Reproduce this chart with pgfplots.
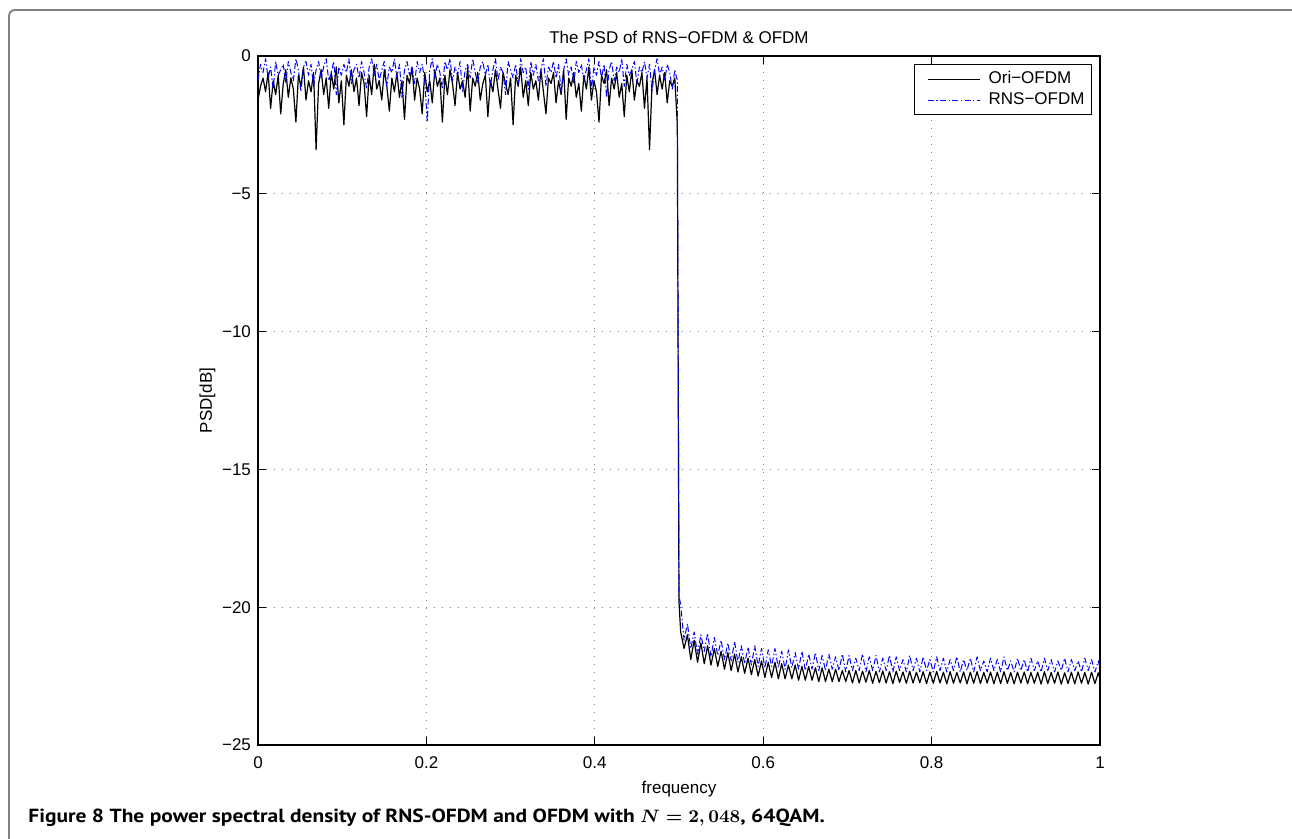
\documentclass[border=0pt]{standalone}
\usepackage{fontspec}
\setmainfont{Liberation Sans}
\newfontfamily\capfont[FakeStretch=1.13]{PT Sans}
\usepackage{pgfplots}
\pgfplotsset{compat=1.18}
\newcommand{\captext}{{\capfont\bfseries\fontsize{9.5}{11}\selectfont Figure 8 The power spectral density of RNS-OFDM and OFDM with \boldmath$N=2,048$, 64QAM.}}
\begin{document}
\begin{tikzpicture}
\useasboundingbox (-129pt,-47pt) rectangle (517pt,372.5pt);
\begin{axis}[
  name=ax, at={(0,0)}, anchor=south west,
  scale only axis, width=421pt, height=344.5pt,
  xmin=0, xmax=1, ymin=-25, ymax=0,
  xtick={0,0.2,0.4,0.6,0.8,1}, xticklabels={0,0.2,0.4,0.6,0.8,1},
  ytick={-25,-20,-15,-10,-5,0}, yticklabels={−25,−20,−15,−10,−5,0},
  tick align=inside, major tick length=4pt,
  grid=major,
  major grid style={gray, line width=0.45pt, dash pattern=on 0.5pt off 3.5pt},
  axis line style={line width=0.6pt},
  tick style={black, line width=0.5pt},
  font=\fontsize{8.5}{10}\selectfont,
  ticklabel style={font=\fontsize{8.5}{10}\selectfont},
  xticklabel style={yshift=-2.5pt},
  title={The PSD of RNS−OFDM \& OFDM},
  title style={at={(axis description cs:0.5,1)}, anchor=base, inner sep=0pt},
  xlabel={frequency},
  xlabel style={at={(axis description cs:0.5,-0.0697)}, anchor=base, inner sep=0pt},
  ylabel={PSD[dB]},
  ylabel style={at={(axis description cs:-0.06,0.5)}, anchor=center, inner sep=0pt},
  legend style={at={(axis description cs:1,1)}, anchor=north east, xshift=-4pt, yshift=-4pt,
    draw=black, line width=0.5pt, font=\fontsize{8.5}{10}\selectfont,
    inner sep=1.5pt, row sep=-1pt},
  legend cell align=left,
  legend image code/.code={\path (0pt,0pt) (33pt,0pt); \draw[#1] (5pt,0pt) -- (31pt,0pt);},
]
\addplot[black, line width=0.6pt, line join=round] coordinates {
(0,-1.6)(0.003,-1.1)(0.006,-0.8)(0.009,-1.3)(0.012,-0.6)(0.015,-1.9)(0.018,-0.9)(0.021,-1.4)(0.024,-0.7)(0.027,-2.1)
(0.030,-1.0)(0.033,-0.5)(0.036,-1.5)(0.039,-0.8)(0.042,-1.2)(0.045,-2.4)(0.048,-0.7)(0.051,-1.1)(0.054,-0.4)(0.057,-1.6)
(0.060,-0.9)(0.063,-1.3)(0.066,-0.6)(0.069,-3.4)(0.072,-1.0)(0.075,-0.5)(0.078,-1.4)(0.081,-0.8)(0.084,-1.9)(0.087,-0.6)
(0.090,-1.2)(0.093,-0.4)(0.096,-1.7)(0.099,-0.9)(0.102,-2.5)(0.105,-0.7)(0.108,-1.1)(0.111,-0.5)(0.114,-1.3)(0.117,-0.8)
(0.120,-1.8)(0.123,-0.6)(0.126,-1.0)(0.129,-2.2)(0.132,-0.7)(0.135,-1.4)(0.138,-0.3)(0.141,-1.2)(0.144,-0.9)(0.147,-1.6)
(0.150,-0.5)(0.153,-1.1)(0.156,-2.0)(0.159,-0.8)(0.162,-1.3)(0.165,-0.6)(0.168,-1.5)(0.171,-0.9)(0.174,-2.3)(0.177,-0.7)
(0.180,-1.0)(0.183,-0.4)(0.186,-1.6)(0.189,-0.8)(0.192,-1.2)(0.195,-2.1)(0.198,-0.6)(0.201,-1.3)(0.204,-0.9)(0.207,-1.7)
(0.210,-0.5)(0.213,-1.1)(0.216,-0.8)(0.219,-2.4)(0.222,-0.7)(0.225,-1.4)(0.228,-0.5)(0.231,-1.0)(0.234,-1.8)(0.237,-0.6)
(0.240,-1.2)(0.243,-0.9)(0.246,-1.5)(0.249,-0.4)(0.252,-2.0)(0.255,-0.8)(0.258,-1.1)(0.261,-0.6)(0.264,-1.6)(0.267,-1.0)
(0.270,-0.7)(0.273,-2.2)(0.276,-0.9)(0.279,-1.3)(0.282,-0.5)(0.285,-1.2)(0.288,-1.9)(0.291,-0.6)(0.294,-1.0)(0.297,-1.4)
(0.300,-0.8)(0.303,-2.5)(0.306,-0.7)(0.309,-1.1)(0.312,-0.4)(0.315,-1.5)(0.318,-0.9)(0.321,-1.8)(0.324,-0.6)(0.327,-1.2)
(0.330,-0.9)(0.333,-1.6)(0.336,-0.5)(0.339,-1.3)(0.342,-2.1)(0.345,-0.8)(0.348,-1.0)(0.351,-0.6)(0.354,-1.7)(0.357,-0.9)
(0.360,-1.4)(0.363,-0.5)(0.366,-2.3)(0.369,-0.8)(0.372,-1.1)(0.375,-0.6)(0.378,-1.5)(0.381,-1.0)(0.384,-2.0)(0.387,-0.7)
(0.390,-1.2)(0.393,-0.4)(0.396,-1.6)(0.399,-0.9)(0.402,-1.3)(0.405,-2.4)(0.408,-0.7)(0.411,-1.0)(0.414,-0.5)(0.417,-1.8)
(0.420,-0.8)(0.423,-1.2)(0.426,-0.6)(0.429,-1.5)(0.432,-1.0)(0.435,-2.2)(0.438,-0.7)(0.441,-1.3)(0.444,-0.5)(0.447,-1.6)
(0.450,-0.9)(0.453,-1.1)(0.456,-0.6)(0.459,-1.9)(0.462,-0.8)(0.465,-3.4)(0.468,-1.0)(0.471,-0.5)(0.474,-1.4)(0.477,-0.7)
(0.480,-1.2)(0.483,-0.6)(0.486,-1.7)(0.489,-0.9)(0.492,-1.1)(0.495,-0.8)(0.498,-2.5)(0.500,-19.8)
(0.502,-20.9)(0.506,-21.5)(0.510,-21.0)(0.514,-21.9)(0.518,-21.2)(0.522,-22.0)(0.526,-21.3)(0.530,-22.05)(0.534,-21.4)(0.538,-22.1)
(0.542,-21.5)(0.546,-22.15)(0.550,-21.6)(0.554,-22.25)(0.558,-21.65)(0.562,-22.3)(0.566,-21.7)(0.570,-22.35)(0.574,-21.8)(0.578,-22.4)
(0.582,-21.85)(0.586,-22.45)(0.590,-21.9)(0.594,-22.5)(0.598,-21.95)(0.602,-22.55)(0.606,-22.0)(0.610,-22.55)(0.614,-22.0)(0.618,-22.6)
(0.622,-22.05)(0.626,-22.6)(0.630,-22.1)(0.634,-22.6)(0.638,-22.1)(0.642,-22.65)(0.646,-22.15)(0.650,-22.65)(0.654,-22.15)(0.658,-22.65)
(0.662,-22.2)(0.666,-22.7)(0.670,-22.2)(0.674,-22.7)(0.678,-22.25)(0.682,-22.7)(0.686,-22.25)(0.690,-22.7)(0.694,-22.3)(0.698,-22.7)
(0.702,-22.3)(0.706,-22.75)(0.710,-22.3)(0.714,-22.75)(0.718,-22.32)(0.722,-22.72)(0.726,-22.3)(0.730,-22.76)(0.734,-22.33)(0.738,-22.74)
(0.742,-22.31)(0.746,-22.75)(0.750,-22.34)(0.754,-22.77)(0.758,-22.32)(0.762,-22.73)(0.766,-22.35)(0.770,-22.76)(0.774,-22.33)(0.778,-22.75)
(0.782,-22.36)(0.786,-22.74)(0.790,-22.34)(0.794,-22.77)(0.798,-22.35)(0.802,-22.76)(0.806,-22.33)(0.810,-22.75)(0.814,-22.36)(0.818,-22.78)
(0.822,-22.34)(0.826,-22.76)(0.830,-22.37)(0.834,-22.75)(0.838,-22.35)(0.842,-22.78)(0.846,-22.36)(0.850,-22.76)(0.854,-22.34)(0.858,-22.77)
(0.862,-22.37)(0.866,-22.75)(0.870,-22.35)(0.874,-22.78)(0.878,-22.36)(0.882,-22.77)(0.886,-22.34)(0.890,-22.76)(0.894,-22.37)(0.898,-22.78)
(0.902,-22.36)(0.906,-22.75)(0.910,-22.35)(0.914,-22.78)(0.918,-22.37)(0.922,-22.76)(0.926,-22.36)(0.930,-22.79)(0.934,-22.34)(0.938,-22.77)
(0.942,-22.37)(0.946,-22.76)(0.950,-22.35)(0.954,-22.79)(0.958,-22.38)(0.962,-22.77)(0.966,-22.36)(0.970,-22.78)(0.974,-22.35)(0.978,-22.76)
(0.982,-22.37)(0.986,-22.79)(0.990,-22.36)(0.994,-22.77)(0.998,-22.38)(1.000,-22.6)
};
\addlegendentry{Ori−OFDM}
\addplot[blue, line width=0.5pt, line join=round, dash pattern=on 3pt off 1.2pt on 0.7pt off 1.2pt] coordinates {
(0,-0.9)(0.003,-0.3)(0.006,-0.6)(0.009,-0.1)(0.012,-0.8)(0.015,-0.4)(0.018,-1.2)(0.021,-0.2)(0.024,-0.7)(0.027,-0.5)
(0.030,-0.3)(0.033,-1.0)(0.036,-0.2)(0.039,-0.6)(0.042,-0.9)(0.045,-0.1)(0.048,-0.5)(0.051,-1.3)(0.054,-0.4)(0.057,-0.2)
(0.060,-0.7)(0.063,-0.3)(0.066,-1.1)(0.069,-0.5)(0.072,-0.2)(0.075,-0.8)(0.078,-0.4)(0.081,-0.1)(0.084,-0.9)(0.087,-0.6)
(0.090,-0.2)(0.093,-1.4)(0.096,-0.4)(0.099,-0.7)(0.102,-0.3)(0.105,-0.6)(0.108,-0.1)(0.111,-1.0)(0.114,-0.5)(0.117,-0.3)
(0.120,-0.8)(0.123,-0.2)(0.126,-0.6)(0.129,-1.2)(0.132,-0.4)(0.135,-0.1)(0.138,-0.7)(0.141,-0.3)(0.144,-0.9)(0.147,-0.5)
(0.150,-0.2)(0.153,-1.1)(0.156,-0.4)(0.159,-0.6)(0.162,-0.1)(0.165,-0.8)(0.168,-0.3)(0.171,-1.5)(0.174,-0.5)(0.177,-0.2)
(0.180,-0.7)(0.183,-0.4)(0.186,-1.0)(0.189,-0.2)(0.192,-0.6)(0.195,-0.3)(0.198,-0.9)(0.201,-2.4)(0.204,-0.5)(0.207,-0.1)
(0.210,-0.8)(0.213,-0.3)(0.216,-0.6)(0.219,-1.2)(0.222,-0.2)(0.225,-0.5)(0.228,-0.1)(0.231,-0.9)(0.234,-0.4)(0.237,-0.7)
(0.240,-0.2)(0.243,-1.3)(0.246,-0.5)(0.249,-0.3)(0.252,-0.8)(0.255,-0.1)(0.258,-0.6)(0.261,-1.0)(0.264,-0.4)(0.267,-0.2)
(0.270,-0.7)(0.273,-0.3)(0.276,-1.1)(0.279,-0.5)(0.282,-0.1)(0.285,-0.9)(0.288,-0.4)(0.291,-0.6)(0.294,-1.4)(0.297,-0.2)
(0.300,-0.5)(0.303,-0.8)(0.306,-0.3)(0.309,-1.0)(0.312,-0.1)(0.315,-0.6)(0.318,-0.4)(0.321,-1.2)(0.324,-0.2)(0.327,-0.7)
(0.330,-0.3)(0.333,-0.9)(0.336,-0.5)(0.339,-0.1)(0.342,-1.1)(0.345,-0.4)(0.348,-0.6)(0.351,-0.2)(0.354,-0.8)(0.357,-0.3)
(0.360,-1.3)(0.363,-0.5)(0.366,-0.1)(0.369,-0.7)(0.372,-0.4)(0.375,-1.0)(0.378,-0.2)(0.381,-0.6)(0.384,-0.3)(0.387,-0.9)
(0.390,-0.5)(0.393,-0.1)(0.396,-1.2)(0.399,-0.4)(0.402,-0.7)(0.405,-0.2)(0.408,-0.8)(0.411,-0.3)(0.414,-1.5)(0.417,-0.5)
(0.420,-0.2)(0.423,-0.9)(0.426,-0.4)(0.429,-0.6)(0.432,-0.1)(0.435,-1.1)(0.438,-0.3)(0.441,-0.7)(0.444,-0.5)(0.447,-0.2)
(0.450,-1.0)(0.453,-0.4)(0.456,-0.6)(0.459,-0.2)(0.462,-0.8)(0.465,-0.3)(0.468,-1.3)(0.471,-0.5)(0.474,-0.1)(0.477,-0.7)
(0.480,-0.4)(0.483,-0.9)(0.486,-0.3)(0.489,-0.6)(0.492,-1.2)(0.495,-0.5)(0.498,-0.9)(0.500,-19.6)
(0.502,-19.9)(0.506,-21.2)(0.510,-20.6)(0.514,-21.5)(0.518,-20.9)(0.522,-21.7)(0.526,-21.0)(0.530,-21.6)(0.534,-20.95)(0.538,-21.8)
(0.542,-21.1)(0.546,-21.75)(0.550,-21.2)(0.554,-21.9)(0.558,-21.3)(0.562,-21.95)(0.566,-21.25)(0.570,-22.0)(0.574,-21.4)(0.578,-22.05)
(0.582,-21.45)(0.586,-22.1)(0.590,-21.4)(0.594,-22.15)(0.598,-21.5)(0.602,-22.2)(0.606,-21.55)(0.610,-22.15)(0.614,-21.5)(0.618,-22.2)
(0.622,-21.6)(0.626,-22.25)(0.630,-21.55)(0.634,-22.2)(0.638,-21.65)(0.642,-22.25)(0.646,-21.6)(0.650,-22.3)(0.654,-21.7)(0.658,-22.25)
(0.662,-21.65)(0.666,-22.3)(0.670,-21.75)(0.674,-22.3)(0.678,-21.7)(0.682,-22.25)(0.686,-21.8)(0.690,-22.3)(0.694,-21.7)(0.698,-22.35)
(0.702,-21.75)(0.706,-22.3)(0.710,-21.85)(0.714,-22.3)(0.718,-21.7)(0.722,-22.35)(0.726,-21.8)(0.730,-22.3)(0.734,-21.75)(0.738,-22.35)
(0.742,-21.85)(0.746,-22.3)(0.750,-21.75)(0.754,-22.35)(0.758,-21.8)(0.762,-22.3)(0.766,-21.9)(0.770,-22.35)(0.774,-21.75)(0.778,-22.3)
(0.782,-21.85)(0.786,-22.35)(0.790,-21.8)(0.794,-22.3)(0.798,-21.9)(0.802,-22.35)(0.806,-21.8)(0.810,-22.3)(0.814,-21.85)(0.818,-22.35)
(0.822,-21.9)(0.826,-22.3)(0.830,-21.8)(0.834,-22.35)(0.838,-21.9)(0.842,-22.3)(0.846,-21.85)(0.850,-22.35)(0.854,-21.8)(0.858,-22.3)
(0.862,-21.95)(0.866,-22.35)(0.870,-21.85)(0.874,-22.3)(0.878,-21.9)(0.882,-22.35)(0.886,-21.8)(0.890,-22.3)(0.894,-21.95)(0.898,-22.35)
(0.902,-21.85)(0.906,-22.3)(0.910,-21.9)(0.914,-22.35)(0.918,-21.85)(0.922,-22.3)(0.926,-21.95)(0.930,-22.35)(0.934,-21.85)(0.938,-22.3)
(0.942,-21.9)(0.946,-22.35)(0.950,-21.95)(0.954,-22.3)(0.958,-21.85)(0.962,-22.35)(0.966,-21.9)(0.970,-22.3)(0.974,-21.95)(0.978,-22.35)
(0.982,-21.85)(0.986,-22.3)(0.990,-21.9)(0.994,-22.35)(0.998,-21.95)(1.000,-22.2)
};
\addlegendentry{RNS−OFDM}
\end{axis}
\draw[line width=0.9pt, color=gray, rounded corners=3pt] (-124.5pt,-60pt) -- (-124.5pt,367.5pt) -- (530pt,367.5pt);
\node[anchor=base west, inner sep=0pt] at (-115pt,-39pt) {\captext};
\end{tikzpicture}
\end{document}
